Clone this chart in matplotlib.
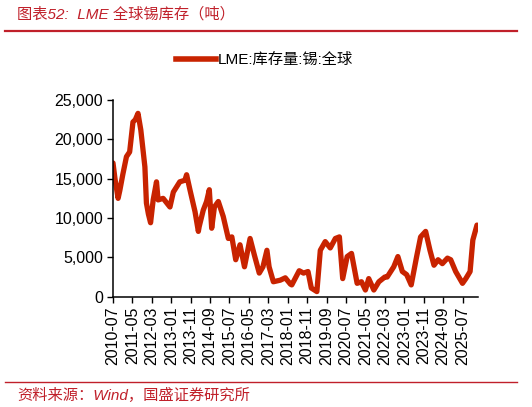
import pandas as pd
import matplotlib
matplotlib.use("Agg")
import matplotlib.pyplot as plt
import matplotlib.dates as mdates
from matplotlib.ticker import FuncFormatter
from matplotlib.lines import Line2D

plt.rcParams['font.family'] = ['Liberation Sans', 'Noto Sans CJK SC', 'DejaVu Sans']

# LME tin stocks (tonnes)
dates = ['2010-07-01', '2010-08-01', '2010-09-19', '2010-10-16', '2010-12-01', '2011-01-28',
         '2011-03-19', '2011-05-10', '2011-06-16', '2011-07-28', '2011-09-10', '2011-11-13',
         '2011-12-07', '2012-01-07', '2012-02-10', '2012-03-22', '2012-05-13', '2012-06-07',
         '2012-08-25', '2012-12-10', '2013-02-01', '2013-05-13', '2013-08-01', '2013-08-28',
         '2013-10-19', '2014-01-07', '2014-02-28', '2014-03-13', '2014-05-16', '2014-07-07',
         '2014-08-19', '2014-09-25', '2014-11-07', '2015-01-07', '2015-03-25', '2015-06-13',
         '2015-08-07', '2015-10-07', '2015-12-13', '2016-02-21', '2016-05-19', '2016-07-25',
         '2016-10-10', '2016-12-07', '2017-02-07', '2017-03-13', '2017-05-19', '2017-09-04',
         '2017-11-22', '2018-02-10', '2018-03-04', '2018-06-28', '2018-09-04', '2018-11-13',
         '2019-01-04', '2019-04-01', '2019-05-25', '2019-08-10', '2019-10-28', '2020-01-16',
         '2020-03-19', '2020-05-10', '2020-07-19', '2020-09-25', '2020-12-22', '2021-02-28',
         '2021-05-01', '2021-06-22', '2021-09-10', '2021-11-28', '2022-03-01', '2022-04-07',
         '2022-07-19', '2022-09-22', '2022-12-01', '2023-02-07', '2023-04-19', '2023-07-13',
         '2023-09-13', '2023-12-01', '2024-02-07', '2024-04-10', '2024-06-13', '2024-08-19',
         '2024-11-07', '2024-12-28', '2025-03-16', '2025-07-01', '2025-08-22', '2025-10-28',
         '2025-12-10', '2026-02-13', '2026-03-01']
stock = [17000, 15000, 12500, 13500, 15500, 17800,
         18400, 22200, 22500, 23300, 21200, 16500,
         11900, 10500, 9400, 12300, 14600, 12300,
         12500, 11400, 13300, 14600, 14800, 15500,
         13600, 10800, 8300, 8900, 11000, 12100,
         13600, 8700, 11400, 12100, 10200, 7400,
         7600, 4700, 6600, 3800, 7400, 5300,
         3000, 3800, 5900, 3800, 1900, 2100,
         2400, 1600, 1500, 3300, 3000, 3200,
         1100, 650, 5900, 7000, 6200, 7400,
         7600, 2300, 5100, 5500, 1700, 1900,
         850, 2300, 850, 1900, 2500, 2500,
         3800, 5100, 3200, 2800, 1500, 5100,
         7600, 8300, 5900, 4000, 4700, 4200,
         4900, 4700, 3200, 1700, 2300, 3200,
         7200, 9100, 9000]
series_name = 'LME:库存量:锡:全球'
title = '图表52:  LME 全球锡库存（吨）'
source = '资料来源：Wind，国盛证券研究所'

df = pd.DataFrame({'date': pd.to_datetime(dates), 'stock': stock})
line_color = '#C82300'
red = '#C0202A'

fig = plt.figure(figsize=(5.32, 4.07), dpi=100)
ax = fig.add_axes([0.2124, 0.271, 0.8985 - 0.2124, 0.7543 - 0.271])
ax.plot(df['date'], df['stock'], color=line_color, lw=3.8, solid_joinstyle='round',
        solid_capstyle='round')

ax.set_ylim(0, 25000)
ax.set_yticks(range(0, 25001, 5000))
ax.yaxis.set_major_formatter(FuncFormatter(lambda v, p: f'{int(v):,}'))
ax.set_xlim(df['date'].iloc[0], df['date'].iloc[-1])
ax.set_xticks(pd.date_range('2010-07-01', periods=19, freq='10MS'))
ax.xaxis.set_major_formatter(mdates.DateFormatter('%Y-%m'))
for lab in ax.get_xticklabels():
    lab.set_rotation(90)
ax.tick_params(axis='both', labelsize=11.5, length=4, width=1, color='black', pad=3)
for s in ['top', 'right']:
    ax.spines[s].set_visible(False)
for s in ['left', 'bottom']:
    ax.spines[s].set_linewidth(1.1)

handle = Line2D([], [], color=line_color, lw=4)
fig.legend([handle], [series_name], loc='center', bbox_to_anchor=(0.497, 0.853),
           frameon=False, fontsize=11, handlelength=2.6, handletextpad=0.1)

fig.text(0.032, 0.966, title, color=red, fontsize=11, style='italic', va='center',
         family=['Liberation Sans', 'Noto Sans CJK SC'])
fig.add_artist(Line2D([0.01, 0.972], [0.924, 0.924], color=red, lw=1.6))
fig.add_artist(Line2D([0.01, 0.972], [0.0614, 0.0614], color=red, lw=1.0))
fig.text(0.032, 0.0295, source, color=red, fontsize=11, style='italic', va='center',
         family=['Liberation Sans', 'Noto Sans CJK SC'])

fig.savefig('out.png', dpi=100)
